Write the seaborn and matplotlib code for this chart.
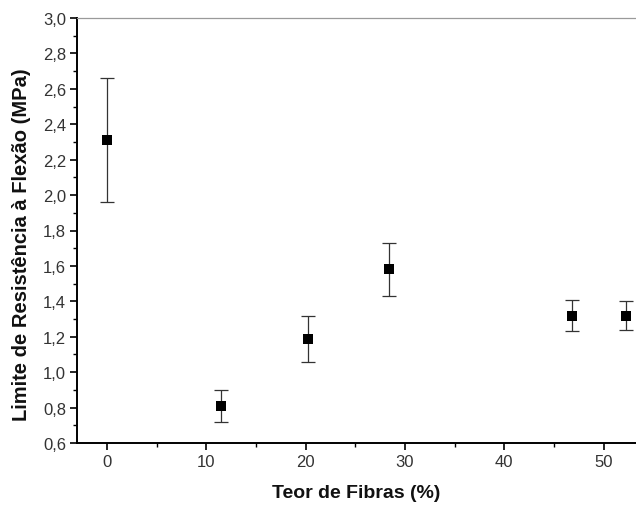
import matplotlib
matplotlib.use("Agg")
import matplotlib.pyplot as plt
import seaborn as sns
import pandas as pd
from matplotlib.ticker import MultipleLocator, FuncFormatter

# Data
fiber_content = [0.0, 11.5, 20.2, 28.4, 46.8, 52.3]
strength = [2.31, 0.81, 1.19, 1.58, 1.32, 1.32]
err_low = [0.35, 0.09, 0.13, 0.15, 0.09, 0.08]
err_high = [0.35, 0.09, 0.13, 0.15, 0.09, 0.08]
x_label = "Teor de Fibras (%)"
y_label = "Limite de Resistência à Flexão (MPa)"

df = pd.DataFrame({"x": fiber_content, "y": strength})

sns.set_style("white")
plt.rcParams["font.family"] = ["Liberation Sans", "DejaVu Sans"]

fig = plt.figure(figsize=(6.36, 5.10), dpi=100)
ax = fig.add_axes([77.3 / 636, 66 / 510, 1 - 77.3 / 636, 425 / 510])

ax.errorbar(fiber_content, strength, yerr=[err_low, err_high], fmt="none",
            ecolor="#333333", elinewidth=0.9, capsize=5, capthick=0.9, zorder=2)
sns.scatterplot(data=df, x="x", y="y", marker="s", color="black", s=48,
                edgecolor="black", linewidth=0, ax=ax, zorder=3, clip_on=False)

ax.set_xlim(-3.0, 53.27)
ax.set_ylim(0.6, 3.0)

ax.xaxis.set_major_locator(MultipleLocator(10))
ax.xaxis.set_minor_locator(MultipleLocator(5))
ax.yaxis.set_major_locator(MultipleLocator(0.2))
ax.yaxis.set_minor_locator(MultipleLocator(0.1))
ax.yaxis.set_major_formatter(FuncFormatter(lambda v, p: f"{v:.1f}".replace(".", ",")))
ax.xaxis.set_major_formatter(FuncFormatter(lambda v, p: f"{v:.0f}"))

ax.tick_params(axis="both", which="major", direction="out", length=5, width=1.2,
               color="black", labelsize=12, labelcolor="#333333", pad=3,
               bottom=True, left=True)
ax.tick_params(axis="both", which="minor", direction="out", length=3, width=1.0,
               color="black", bottom=True, left=True)

for side in ["left", "bottom"]:
    ax.spines[side].set_color("black")
    ax.spines[side].set_linewidth(1.4)
ax.spines["top"].set_color("#9a9a9a")
ax.spines["top"].set_linewidth(0.9)
ax.spines["right"].set_visible(False)

ax.set_xlabel(x_label, fontsize=14, fontweight="bold", color="#111111", labelpad=11)
ax.set_ylabel(y_label, fontsize=14.5, fontweight="bold", color="#111111")
ax.yaxis.set_label_coords(-0.083, 0.47)

fig.savefig("out.png", dpi=100)
